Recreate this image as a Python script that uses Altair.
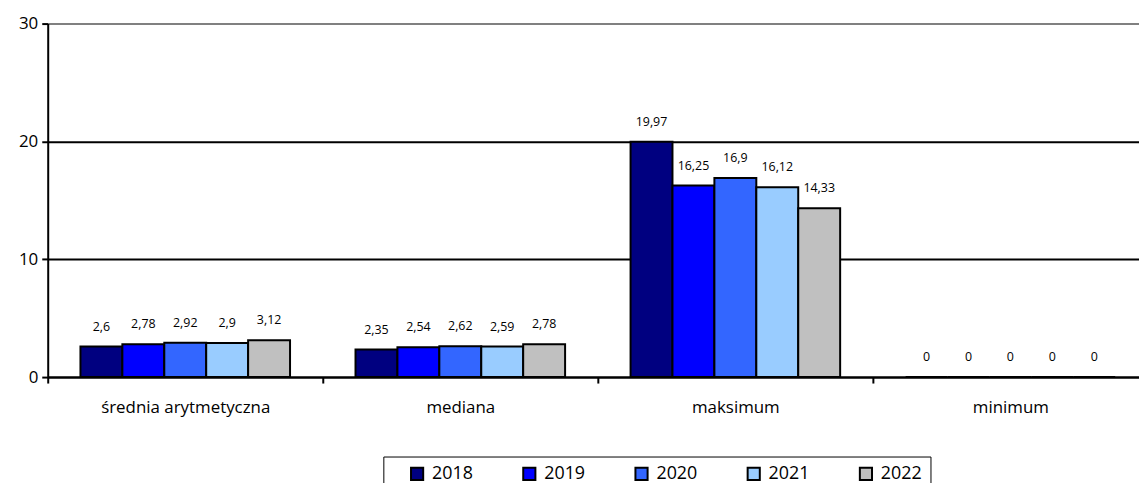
import altair as alt
import pandas as pd

categories = ["średnia arytmetyczna", "mediana", "maksimum", "minimum"]
years = ["2018", "2019", "2020", "2021", "2022"]
values = {
    "2018": [2.6, 2.35, 19.97, 0],
    "2019": [2.78, 2.54, 16.25, 0],
    "2020": [2.92, 2.62, 16.9, 0],
    "2021": [2.9, 2.59, 16.12, 0],
    "2022": [3.12, 2.78, 14.33, 0],
}
colors = ["#000080", "#0000FF", "#3366FF", "#99CCFF", "#C0C0C0"]

rows = []
for y in years:
    for c, v in zip(categories, values[y]):
        rows.append({"kat": c, "rok": y, "wartosc": v})
df = pd.DataFrame(rows)

FONT = "Open Sans"
W, H = 1099, 356
XR = 1108
step = XR / 4.0

x_scale = alt.Scale(domain=categories, range=[0, XR], paddingInner=0.238, paddingOuter=0.119)
x = alt.X("kat:N", scale=x_scale, sort=categories, title=None,
          axis=alt.Axis(labelAngle=0, labelFont=FONT, labelFontSize=17, labelColor="black",
                        labelPadding=17, domainColor="black", domainWidth=2,
                        tickColor="black", tickWidth=2, tickSize=6,
                        tickOffset=-step / 2, labelOffset=step / 2, grid=False))
xo = alt.XOffset("rok:N", sort=years, scale=alt.Scale(paddingInner=0, paddingOuter=0))
y_scale = alt.Scale(domain=[0, 30], nice=False)
y = alt.Y("wartosc:Q", scale=y_scale, title=None,
          axis=alt.Axis(values=[0, 10, 20, 30], labelFont=FONT, labelFontSize=17,
                        labelColor="black", labelPadding=4,
                        domainColor="black", domainWidth=2,
                        tickColor="black", tickWidth=2, tickSize=6,
                        grid=True, gridWidth=2,
                        gridColor={"condition": {"test": "datum.value === 30", "value": "#808080"},
                                   "value": "black"}))

color = alt.Color("rok:N", sort=years, scale=alt.Scale(domain=years, range=colors), title=None,
                  legend=alt.Legend(orient="none", legendX=338, legendY=436, direction="horizontal",
                                    symbolType="square", symbolSize=150, symbolStrokeColor="black",
                                    symbolStrokeWidth=2, symbolOpacity=1, symbolOffset=17,
                                    labelFont=FONT, labelFontSize=18, labelColor="black",
                                    labelOffset=6, columnPadding=30,
                                    strokeColor="black", padding=8, fillColor="white"))

bars = alt.Chart(df).mark_bar(stroke="black", strokeWidth=2, opacity=1).encode(
    x=x, xOffset=xo, y=y, color=color)

labels = alt.Chart(df).transform_calculate(
    lab="replace(toString(datum.wartosc), '.', ',')"
).mark_text(font=FONT, fontSize=12.5, fill="black", baseline="middle", dy=-20).encode(
    x=alt.X("kat:N", scale=x_scale, sort=categories), xOffset=xo,
    y=alt.Y("wartosc:Q", scale=y_scale),
    text="lab:N")

chart = alt.layer(bars, labels).properties(
    width=W, height=H,
    autosize=alt.AutoSizeParams(type="none"),
    padding={"left": 40, "top": 14, "right": 0, "bottom": 110},
).configure_view(stroke=None).configure(background="white")

chart.save("out.html", embed_options={"renderer": "svg", "actions": False})
